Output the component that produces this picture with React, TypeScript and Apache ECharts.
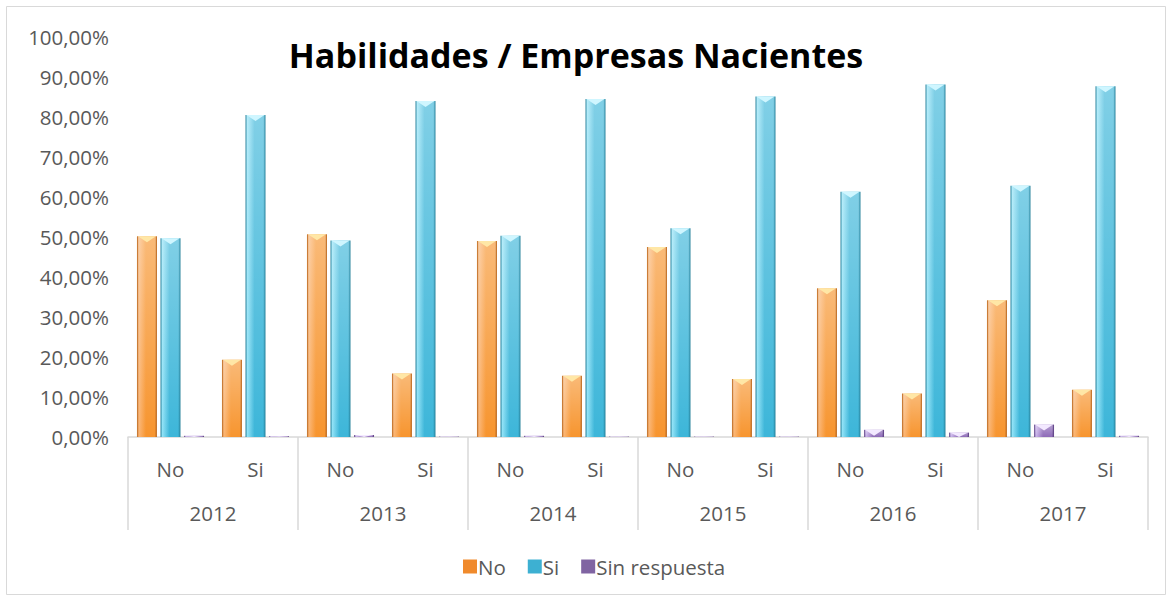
import React, { useEffect, useRef } from "react";
import * as echarts from "echarts";

const years = ["2012", "2013", "2014", "2015", "2016", "2017"];
const answers = ["No", "Si"];
const seriesNames = ["No", "Si", "Sin respuesta"];
// values in %, one per (year, answer) category, in order 2012-No, 2012-Si, 2013-No, ...
const noValues = [50.2, 19.3, 50.7, 15.9, 49.0, 15.3, 47.5, 14.5, 37.2, 10.9, 34.2, 11.8];
const siValues = [49.7, 80.5, 49.1, 84.0, 50.3, 84.5, 52.2, 85.1, 61.3, 88.1, 62.8, 87.7];
const sinRespuestaValues = [0.3, 0.2, 0.5, 0.1, 0.3, 0.1, 0.1, 0.1, 1.8, 1.1, 3.1, 0.3];
const yTicks = { min: 0, max: 100, interval: 10 };

const categories: string[] = [];
years.forEach((y) => answers.forEach((a) => categories.push(y + "|" + a)));

const palettes = [
  { main: "#F7952F", light: "#FBB574", dark: "#B8661E", cap: "#FFE7A6", legend: "#F08A2C" },
  { main: "#3DB6D9", light: "#8EE1F6", dark: "#247F99", cap: "#CFF6FF", legend: "#3DB0D2" },
  { main: "#8E6BB8", light: "#C8B2EA", dark: "#5A3F80", cap: "#F3E9FF", legend: "#8064A2" },
];

const FONT = "'Open Sans', Lato, sans-serif";
const LABEL_SIZE = 20.5;

function makeSeries(idx: number, values: number[]) {
  const p = palettes[idx];
  return {
    type: "custom",
    name: seriesNames[idx],
    itemStyle: { color: p.legend },
    encode: { x: 0, y: 1 },
    data: values.map((v, i) => [i, v]),
    renderItem: (params: any, api: any) => {
      const cat = api.value(0);
      const val = api.value(1);
      const base = api.coord([cat, 0]);
      const top = api.coord([cat, val]);
      const band = api.size([1, 0])[0];
      const w = band * 0.235;
      const cx = base[0] + (idx - 1) * band * 0.277;
      const x = cx - w / 2;
      const h = base[1] - top[1];
      if (h <= 0.2) return null;
      const capH = Math.min(6, h);
      return {
        type: "group",
        children: [
          {
            type: "rect",
            shape: { x, y: top[1], width: w, height: h },
            style: {
              fill: new echarts.graphic.LinearGradient(0, 0, 1, 0, [
                { offset: 0, color: p.dark },
                { offset: 0.1, color: p.light },
                { offset: 0.45, color: p.main },
                { offset: 0.88, color: p.main },
                { offset: 1, color: p.dark },
              ]),
            },
          },
          {
            type: "rect",
            shape: { x: x + 1, y: top[1], width: w - 2, height: h },
            style: {
              fill: new echarts.graphic.LinearGradient(0, 0, 0, 1, [
                { offset: 0, color: "rgba(255,255,255,0.35)" },
                { offset: 1, color: "rgba(255,255,255,0)" },
              ]),
            },
          },
          {
            type: "polygon",
            shape: {
              points: [
                [x + 1, top[1]],
                [x + w - 1, top[1]],
                [cx, top[1] + capH],
              ],
            },
            style: { fill: p.cap },
          },
        ],
      };
    },
  };
}

export default function App() {
  const ref = useRef<HTMLDivElement>(null);
  useEffect(() => {
    document.body.style.margin = "0";
    const chart = echarts.init(ref.current!, null, { renderer: "svg" });
    chart.setOption({
      animation: false,
      backgroundColor: "#FFFFFF",
      textStyle: { fontFamily: FONT },
      graphic: [
        {
          type: "rect",
          shape: { x: 6.5, y: 6.5, width: 1159, height: 588 },
          style: { fill: "none", stroke: "#D9D9D9", lineWidth: 1 },
          silent: true,
        },
        {
          type: "text",
          x: 576,
          y: 55,
          style: {
            text: "Habilidades / Empresas Nacientes",
            font: "bold 34px " + FONT,
            fill: "#000000",
            textAlign: "center",
            textVerticalAlign: "middle",
          },
        },
      ],
      legend: {
        top: 551,
        left: 458,
        icon: "rect",
        itemWidth: 14,
        itemHeight: 14,
        itemGap: 22,
        textStyle: { fontFamily: FONT, fontSize: LABEL_SIZE, color: "#595959", padding: [0, 0, 0, -4] },
        data: seriesNames,
      },
      grid: { left: 128, right: 24, top: 37, bottom: 164 },
      xAxis: [
        {
          type: "category",
          data: categories,
          position: "bottom",
          axisLine: { show: true, lineStyle: { color: "#D9D9D9", width: 1.5 } },
          axisTick: { show: false },
          axisLabel: {
            formatter: (v: string) => v.split("|")[1],
            fontFamily: FONT,
            fontSize: LABEL_SIZE,
            color: "#595959",
            margin: 21,
          },
        },
        {
          type: "category",
          data: years,
          position: "bottom",
          axisLine: { show: false },
          axisTick: { show: true, length: 93, lineStyle: { color: "#D9D9D9", width: 1.5 } },
          axisLabel: { fontFamily: FONT, fontSize: LABEL_SIZE, color: "#595959", margin: 65 },
        },
      ],
      yAxis: {
        type: "value",
        min: yTicks.min,
        max: yTicks.max,
        interval: yTicks.interval,
        axisLine: { show: false },
        axisTick: { show: false },
        splitLine: { show: false },
        axisLabel: {
          formatter: (v: number) => v.toFixed(2).replace(".", ",") + "%",
          fontFamily: FONT,
          fontSize: LABEL_SIZE,
          color: "#595959",
          margin: 19,
        },
      },
      series: [
        makeSeries(0, noValues),
        makeSeries(1, siValues),
        makeSeries(2, sinRespuestaValues),
      ],
    });
    return () => chart.dispose();
  }, []);
  return <div ref={ref} style={{ width: 1172, height: 601 }} />;
}
